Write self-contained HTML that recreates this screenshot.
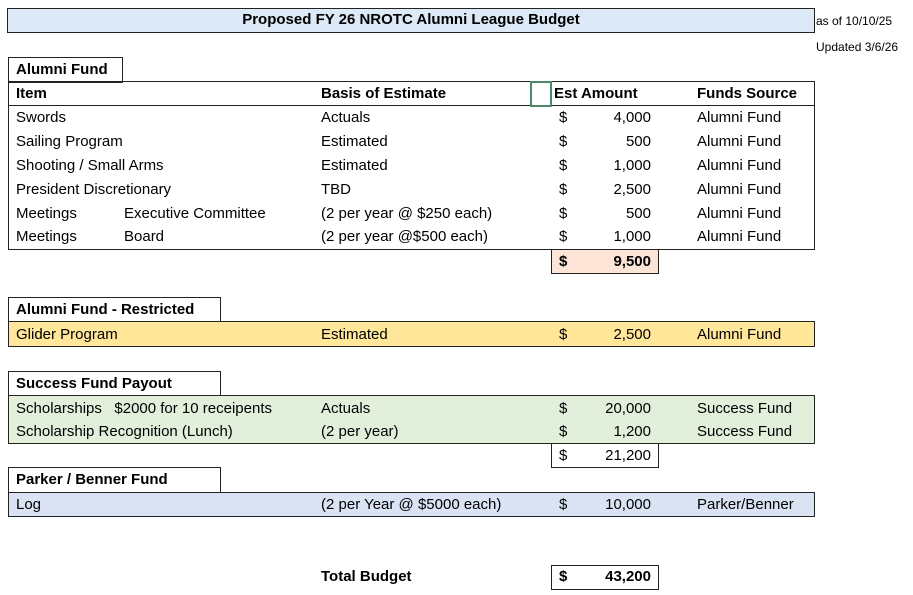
<!DOCTYPE html>
<html><head><style>
body{margin:0;width:913px;height:595px;background:#fff;position:relative;font-family:"Liberation Sans",sans-serif;font-size:15px;color:#000;overflow:hidden}
.b{position:absolute;box-sizing:border-box;border:1.5px solid #222}
.t{position:absolute;white-space:nowrap;line-height:18px}
.bold{font-weight:bold}
.r{text-align:right}
</style></head><body>
<div class="b" style="left:7px;top:8px;width:808px;height:25px;background:#dde9f6"></div>
<div class="t bold" style="left:7px;width:808px;top:11px;text-align:center">Proposed FY 26 NROTC Alumni League Budget</div>
<div class="t" style="left:816px;top:12px;font-size:12px">as of 10/10/25</div>
<div class="t" style="left:816px;top:38px;font-size:12px">Updated 3/6/26</div>

<div class="b" style="left:8px;top:57px;width:115px;height:26px"></div>
<div class="t bold" style="left:16px;top:61px">Alumni Fund</div>
<div class="b" style="left:8px;top:81px;width:807px;height:169px"></div>
<div style="position:absolute;left:8px;top:105px;width:807px;border-top:1.5px solid #222"></div>
<div style="position:absolute;left:530px;top:81px;width:22px;height:26px;box-sizing:border-box;border:2px solid #4a8a68"></div>
<div class="t bold" style="left:16px;top:85px">Item</div>
<div class="t bold" style="left:321px;top:85px">Basis of Estimate</div>
<div class="t bold" style="left:554px;top:85px">Est Amount</div>
<div class="t bold" style="left:697px;top:85px">Funds Source</div>

<div class="t" style="left:16px;top:109px">Swords</div><div class="t" style="left:321px;top:109px">Actuals</div><div class="t" style="left:559px;top:109px">$</div><div class="t r" style="left:580px;width:71px;top:109px">4,000</div><div class="t" style="left:697px;top:109px">Alumni Fund</div>
<div class="t" style="left:16px;top:133px">Sailing Program</div><div class="t" style="left:321px;top:133px">Estimated</div><div class="t" style="left:559px;top:133px">$</div><div class="t r" style="left:580px;width:71px;top:133px">500</div><div class="t" style="left:697px;top:133px">Alumni Fund</div>
<div class="t" style="left:16px;top:157px">Shooting / Small Arms</div><div class="t" style="left:321px;top:157px">Estimated</div><div class="t" style="left:559px;top:157px">$</div><div class="t r" style="left:580px;width:71px;top:157px">1,000</div><div class="t" style="left:697px;top:157px">Alumni Fund</div>
<div class="t" style="left:16px;top:181px">President Discretionary</div><div class="t" style="left:321px;top:181px">TBD</div><div class="t" style="left:559px;top:181px">$</div><div class="t r" style="left:580px;width:71px;top:181px">2,500</div><div class="t" style="left:697px;top:181px">Alumni Fund</div>
<div class="t" style="left:16px;top:205px">Meetings</div><div class="t" style="left:124px;top:205px">Executive Committee</div><div class="t" style="left:321px;top:205px">(2 per year @ $250 each)</div><div class="t" style="left:559px;top:205px">$</div><div class="t r" style="left:580px;width:71px;top:205px">500</div><div class="t" style="left:697px;top:205px">Alumni Fund</div>
<div class="t" style="left:16px;top:228px">Meetings</div><div class="t" style="left:124px;top:228px">Board</div><div class="t" style="left:321px;top:228px">(2 per year @$500 each)</div><div class="t" style="left:559px;top:228px">$</div><div class="t r" style="left:580px;width:71px;top:228px">1,000</div><div class="t" style="left:697px;top:228px">Alumni Fund</div>

<div class="b" style="left:551px;top:249px;width:108px;height:25px;background:#fce4d6"></div>
<div class="t bold" style="left:559px;top:253px">$</div><div class="t bold r" style="left:580px;width:71px;top:253px">9,500</div>

<div class="b" style="left:8px;top:297px;width:213px;height:25px"></div>
<div class="t bold" style="left:16px;top:301px">Alumni Fund - Restricted</div>
<div class="b" style="left:8px;top:321px;width:807px;height:26px;background:#ffe699"></div>
<div class="t" style="left:16px;top:326px">Glider Program</div><div class="t" style="left:321px;top:326px">Estimated</div><div class="t" style="left:559px;top:326px">$</div><div class="t r" style="left:580px;width:71px;top:326px">2,500</div><div class="t" style="left:697px;top:326px">Alumni Fund</div>

<div class="b" style="left:8px;top:371px;width:213px;height:25px"></div>
<div class="t bold" style="left:16px;top:375px">Success Fund Payout</div>
<div class="b" style="left:8px;top:395px;width:807px;height:49px;background:#e2efda"></div>
<div class="t" style="left:16px;top:400px">Scholarships&nbsp;&nbsp;&nbsp;$2000 for 10 receipents</div><div class="t" style="left:321px;top:400px">Actuals</div><div class="t" style="left:559px;top:400px">$</div><div class="t r" style="left:580px;width:71px;top:400px">20,000</div><div class="t" style="left:697px;top:400px">Success Fund</div>
<div class="t" style="left:16px;top:423px">Scholarship Recognition (Lunch)</div><div class="t" style="left:321px;top:423px">(2 per year)</div><div class="t" style="left:559px;top:423px">$</div><div class="t r" style="left:580px;width:71px;top:423px">1,200</div><div class="t" style="left:697px;top:423px">Success Fund</div>

<div class="b" style="left:551px;top:443px;width:108px;height:25px"></div>
<div class="t" style="left:559px;top:447px">$</div><div class="t r" style="left:580px;width:71px;top:447px">21,200</div>

<div class="b" style="left:8px;top:467px;width:213px;height:26px"></div>
<div class="t bold" style="left:16px;top:471px">Parker / Benner Fund</div>
<div class="b" style="left:8px;top:492px;width:807px;height:25px;background:#dae3f3"></div>
<div class="t" style="left:16px;top:496px">Log</div><div class="t" style="left:321px;top:496px">(2 per Year @ $5000 each)</div><div class="t" style="left:559px;top:496px">$</div><div class="t r" style="left:580px;width:71px;top:496px">10,000</div><div class="t" style="left:697px;top:496px">Parker/Benner</div>

<div class="t bold" style="left:321px;top:568px">Total Budget</div>
<div class="b" style="left:551px;top:565px;width:108px;height:25px"></div>
<div class="t bold" style="left:559px;top:568px">$</div><div class="t bold r" style="left:580px;width:71px;top:568px">43,200</div>
</body></html>
